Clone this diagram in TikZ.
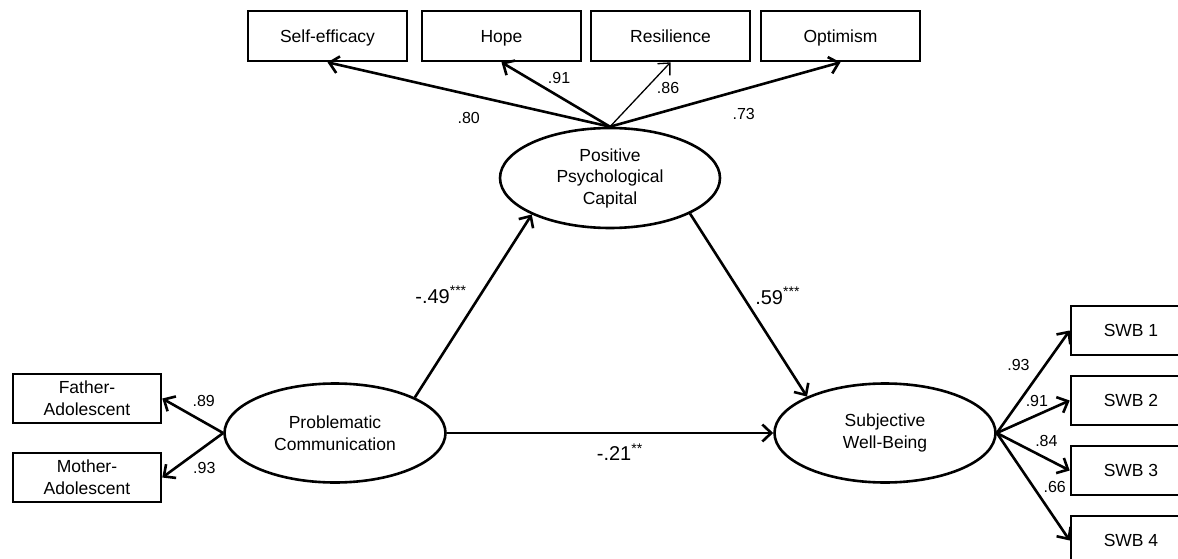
\documentclass[tikz,border=0pt]{standalone}
\usepackage{fontspec}
\setmainfont{Liberation Sans}
\usepackage{tikz}
\usetikzlibrary{shapes.geometric,arrows.meta}

\begin{document}
\begin{tikzpicture}[x=1pt,y=-1pt]
  \tikzset{obsbox/.style={draw, line width=2.6pt, minimum width=159pt, minimum height=50pt, inner sep=0pt, align=center, font=\fontsize{17.5}{22}\selectfont}}
  \tikzset{oneline/.style={text height=12.6pt, text depth=0pt}}
  \tikzset{latent/.style={draw, ellipse, line width=2.6pt, minimum width=221pt, minimum height=99pt, inner sep=0pt, align=center, font=\fontsize{17.5}{21.5}\selectfont}}
  \tikzset{loadarrow/.style={line width=2.6pt, -{Straight Barb[length=9pt,width=17pt]}}}
  \tikzset{loadnum/.style={font=\fontsize{16}{19}\selectfont, inner sep=2pt}}
  \tikzset{coefnum/.style={font=\fontsize{20}{24}\selectfont}}
  \clip (0,0) rectangle (1178,559);
  \fill[white] (0,0) rectangle (1178,559);
  \node[obsbox, oneline] (se) at (327.5,36) {Self-efficacy};
  \node[obsbox, oneline] (hope) at (501.5,36) {Hope};
  \node[obsbox, oneline] (res) at (670.5,36) {Resilience};
  \node[obsbox, oneline] (opt) at (840.5,36) {Optimism};
  \node[latent, minimum width=220pt, minimum height=100pt] (ppc) at (610,178) {Positive\\Psychological\\Capital};
  \node[latent] (pc) at (335,433) {Problematic\\Communication};
  \node[latent] (swb) at (885,433) {Subjective\\Well-Being};
  \node[obsbox, minimum width=148pt, minimum height=49pt] (fa) at (87,398.5) {Father-\\Adolescent};
  \node[obsbox, minimum width=148pt, minimum height=49pt] (ma) at (87,477.5) {Mother-\\Adolescent};
  \node[obsbox, oneline, minimum width=120pt, minimum height=49pt] (swb1) at (1131,330.5) {SWB 1};
  \node[obsbox, oneline, minimum width=120pt, minimum height=49pt] (swb2) at (1131,400.5) {SWB 2};
  \node[obsbox, oneline, minimum width=120pt, minimum height=49pt] (swb3) at (1131,470.5) {SWB 3};
  \node[obsbox, oneline, minimum width=120pt, minimum height=49pt] (swb4) at (1131,540.5) {SWB 4};
  \draw[loadarrow] (ppc.north) -- node[pos=0.5,below=15pt,loadnum] {.80} (se.south);
  \draw[loadarrow] (ppc.north) -- node[pos=0.75,right=16pt,loadnum] {.91} (hope.south);
  \draw[loadarrow, line width=1.3pt] (ppc.north) -- node[pos=0.6,right=8pt,loadnum] {.86} (res.south);
  \draw[loadarrow] (ppc.north) -- node[pos=0.58,below=16pt,loadnum] {.73} (opt.south);
  \draw[loadarrow] (pc.west) -- node[pos=0.32,above=12pt,loadnum] {.89} (fa.east);
  \draw[loadarrow] (pc.west) -- node[pos=0.31,below=12pt,loadnum] {.93} (ma.east);
  \draw[loadarrow] (swb.east) -- node[pos=0.66,left=12pt,loadnum] {.93} (swb1.west);
  \draw[loadarrow] (swb.east) -- node[pos=0.55,above=5pt,loadnum] {.91} (swb2.west);
  \draw[loadarrow] (swb.east) -- node[pos=0.68,above=9pt,loadnum] {.84} (swb3.west);
  \draw[loadarrow] (swb.east) -- node[pos=0.5,right=7pt,loadnum] {.66} (swb4.west);
  \draw[loadarrow] (pc.24) -- node[pos=0.56,left=9pt,coefnum] {-.49\textsuperscript{***}} (ppc.205);
  \draw[loadarrow] (ppc.-24) -- node[pos=0.45,right=8pt,coefnum] {.59\textsuperscript{***}} (swb.155);
  \draw[loadarrow] (pc.east) -- node[pos=0.53,below=6pt,coefnum] {-.21\textsuperscript{**}} (swb.west);
\end{tikzpicture}
\end{document}
